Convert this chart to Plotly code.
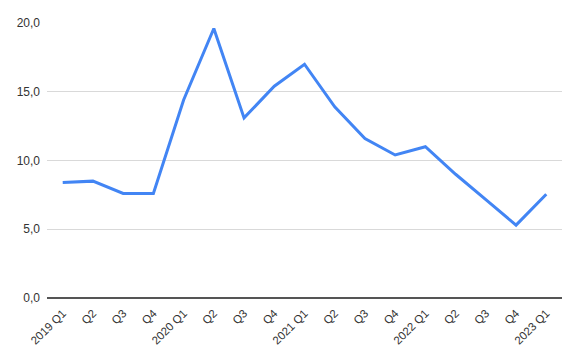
import plotly.graph_objects as go

categories = ["2019 Q1", "Q2", "Q3", "Q4", "2020 Q1", "Q2", "Q3", "Q4",
              "2021 Q1", "Q2", "Q3", "Q4", "2022 Q1", "Q2", "Q3", "Q4",
              "2023 Q1"]
values = [8.4, 8.5, 7.6, 7.6, 14.4, 19.6, 13.1, 15.4,
          17.0, 13.9, 11.6, 10.4, 11.0, 9.0, 7.15, 5.3, 7.55]
y_ticks = [0, 5, 10, 15, 20]

fig = go.Figure()
fig.add_trace(go.Scatter(
    x=list(range(len(categories))), y=values, mode="lines",
    line=dict(color="#4285F4", width=3),
    hoverinfo="y",
))

fig.update_layout(
    width=580, height=359,
    margin=dict(l=47, r=18, t=23, b=61),
    paper_bgcolor="white", plot_bgcolor="white",
    separators=",.",
    showlegend=False,
    font=dict(family="Liberation Sans, Arial, sans-serif", size=12, color="#444444"),
    xaxis=dict(
        tickmode="array",
        tickvals=list(range(len(categories))),
        ticktext=categories,
        tickangle=-45,
        range=[-0.52, 16.52],
        showgrid=False,
        zeroline=False,
        showline=False,
        ticks="outside",
        ticklen=3,
        tickcolor="rgba(0,0,0,0)",
        tickfont=dict(size=11.5, color="#333333"),
    ),
    yaxis=dict(
        range=[0, 20],
        tickvals=y_ticks,
        tickformat=".1f",
        showgrid=True,
        gridcolor="#d9d9d9",
        gridwidth=1,
        zeroline=True,
        zerolinecolor="#555555",
        zerolinewidth=1.5,
        showline=False,
        ticks="",
        ticklabelstandoff=6,
        tickfont=dict(size=12, color="#333333"),
    ),
)

fig.write_html("out.html")
